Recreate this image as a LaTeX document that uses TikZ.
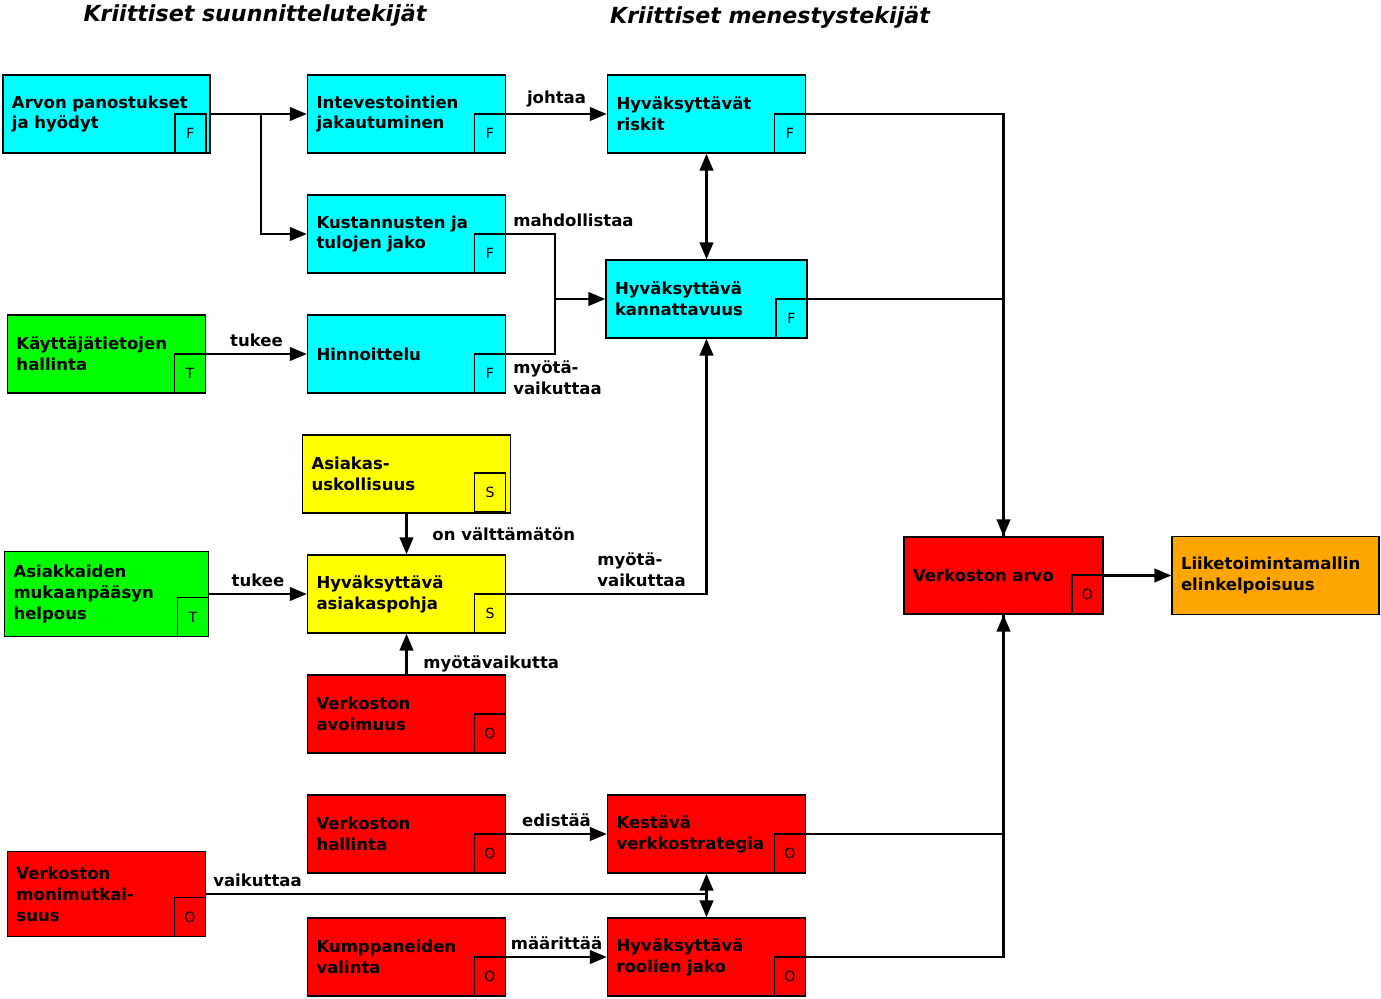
\documentclass[tikz,border=0pt]{standalone}
\usepackage{fontspec}
\setmainfont{DejaVu Sans}[BoldFont={DejaVu Sans Bold}, ItalicFont={DejaVu Sans Oblique}, BoldItalicFont={DejaVu Sans Bold Oblique}]
\usepackage{tikz}
\usetikzlibrary{shapes.geometric, arrows}
\definecolor{moneycyan}{RGB}{0,255,255}
\definecolor{usergreen}{RGB}{0,255,0}
\definecolor{customeryellow}{RGB}{255,255,0}
\definecolor{networkred}{RGB}{255,0,0}
\definecolor{goalorange}{RGB}{255,165,0}
\tikzstyle{factor} = [rectangle, minimum height=1.56cm, text width=3.6cm,
inner xsep=0.18cm, align=left, draw=black, line width=1pt,
font=\fontsize{9.4}{11.9}\selectfont\bfseries]
\tikzstyle{money} = [factor, fill=moneycyan]
\tikzstyle{user} = [factor, fill=usergreen]
\tikzstyle{customer} = [factor, fill=customeryellow]
\tikzstyle{network} = [factor, fill=networkred]
\tikzstyle{goal} = [factor, fill=goalorange]
\tikzstyle{tag} = [rectangle, draw=black, line width=1pt, minimum width=0.62cm,
minimum height=0.78cm, inner sep=0pt, anchor=south east,
font=\fontsize{8}{9}\selectfont]
\tikzstyle{lbl} = [font=\fontsize{9.4}{11.9}\selectfont\bfseries, align=left]
\tikzstyle{title} = [font=\fontsize{12.6}{14}\selectfont\bfseries\itshape]
\tikzstyle{arrow} = [line width=1.2pt,->,>=triangle 45]
\tikzstyle{link} = [line width=1.2pt]

\begin{document}
\begin{tikzpicture}[node distance=2.4cm]
\useasboundingbox (0,0) rectangle (27.62,-19.98);

\node(plan)[title] at (5.1,-0.3){Kriittiset suunnittelutekijät};
\node(success)[title] at (15.4,-0.34){Kriittiset menestystekijät};

\node(arvon)[money, text width=3.78cm] at (2.13,-2.28){Arvon panostukset\\ja hyödyt};
\node(invest)[money, right of=arvon, xshift=3.6cm]{Intevestointien\\jakautuminen};
\node(riskit)[money, right of=invest, xshift=3.6cm]{Hyväksyttävät\\riskit};
\node(kust)[money, below of=invest]{Kustannusten ja\\tulojen jako};
\node(kann)[money, text width=3.66cm, right of=kust, xshift=3.6cm, yshift=-1.3cm]{Hyväksyttävä\\kannattavuus};
\node(hinn)[money, below of=kust]{Hinnoittelu};
\node(kayt)[user, left of=hinn, xshift=-3.6cm]{Käyttäjätietojen\\hallinta};
\node(uskoll)[customer, text width=3.8cm, below of=hinn]{Asiakas-\\uskollisuus};
\node(pohja)[customer, below of=uskoll]{Hyväksyttävä\\asiakaspohja};
\node(asiakk)[user, text width=3.72cm, minimum height=1.7cm, left of=pohja, xshift=-3.6cm]{Asiakkaiden\\mukaanpääsyn\\helpous};
\node(avoim)[network, below of=pohja]{Verkoston\\avoimuus};
\node(hallinta)[network, below of=avoim]{Verkoston\\hallinta};
\node(kumpp)[network, below of=hallinta, yshift=-0.06cm]{Kumppaneiden\\valinta};
\node(kestava)[network, right of=hallinta, xshift=3.6cm]{Kestävä\\verkkostrategia};
\node(roolit)[network, right of=kumpp, xshift=3.6cm]{Hyväksyttävä\\roolien jako};
\node(monim)[network, minimum height=1.7cm, left of=hallinta, xshift=-3.6cm, yshift=-1.2cm]{Verkoston\\monimutkai-\\suus};
\node(verkarvo)[network, text width=3.62cm, minimum height=1.54cm, right of=pohja, xshift=9.54cm, yshift=0.37cm]{Verkoston arvo};
\node(elink)[goal, text width=3.78cm, right of=verkarvo, xshift=3.04cm]{Liiketoimintamallin\\elinkelpoisuus};

% luokkatunnukset
\node(arvonF)[tag] at ([xshift=-0.08cm]arvon.south east){F};
\node(investF)[tag] at (invest.south east){F};
\node(riskitF)[tag] at (riskit.south east){F};
\node(kustF)[tag] at (kust.south east){F};
\node(kannF)[tag] at (kann.south east){F};
\node(hinnF)[tag] at (hinn.south east){F};
\node(kaytT)[tag] at (kayt.south east){T};
\node(uskollS)[tag] at ([xshift=-0.1cm, yshift=0.02cm]uskoll.south east){S};
\node(pohjaS)[tag] at (pohja.south east){S};
\node(asiakkT)[tag] at (asiakk.south east){T};
\node(avoimO)[tag] at (avoim.south east){O};
\node(hallintaO)[tag] at (hallinta.south east){O};
\node(kumppO)[tag] at (kumpp.south east){O};
\node(kestavaO)[tag] at (kestava.south east){O};
\node(roolitO)[tag] at (roolit.south east){O};
\node(monimO)[tag] at (monim.south east){O};
\node(verkarvoO)[tag] at (verkarvo.south east){O};

\coordinate(split) at ([xshift=1cm]arvon.east);
\coordinate(merge) at ([xshift=-1cm]kann.west);
\coordinate(fork) at (monim -| kestava);

\draw[arrow](arvon) -- (invest);
\draw[arrow](split) |- (kust);
\draw[arrow](invest) -- node[lbl, above]{johtaa}(riskit);
\draw[arrow, <->](riskit) -- (kann);
\draw[link](kust) -| node[lbl, anchor=south west, pos=0]{mahdollistaa}(merge);
\draw[link](hinn) -| node[lbl, anchor=north west, pos=0]{myötä-\\vaikuttaa}(merge);
\draw[arrow](merge) -- (kann);
\draw[arrow](kayt) -- node[lbl, above]{tukee}(hinn);
\draw[arrow](uskoll) -- node[lbl, right, xshift=0.38cm]{on välttämätön}(pohja);
\draw[arrow](asiakk) -- node[lbl, above]{tukee}(pohja);
\draw[arrow](pohja) -| node[lbl, anchor=south west, pos=0.21]{myötä-\\vaikuttaa}(kann);
\draw[arrow](avoim) -- node[lbl, right, pos=0.25, xshift=0.2cm]{myötävaikutta}(pohja);
\draw[arrow](riskit) -| (verkarvo);
\draw[link](kann) -| (verkarvo);
\draw[arrow](kestava) -| (verkarvo);
\draw[link](roolit) -| (verkarvo);
\draw[arrow](verkarvo) -- (elink);
\draw[arrow](hallinta) -- node[lbl, above]{edistää}(kestava);
\draw[arrow](kumpp) -- node[lbl, above]{määrittää}(roolit);
\draw[link](monim) -- node[lbl, anchor=south west, pos=0]{vaikuttaa}(fork);
\draw[arrow](fork) -- (kestava);
\draw[arrow](fork) -- (roolit);

\end{tikzpicture}
\end{document}
